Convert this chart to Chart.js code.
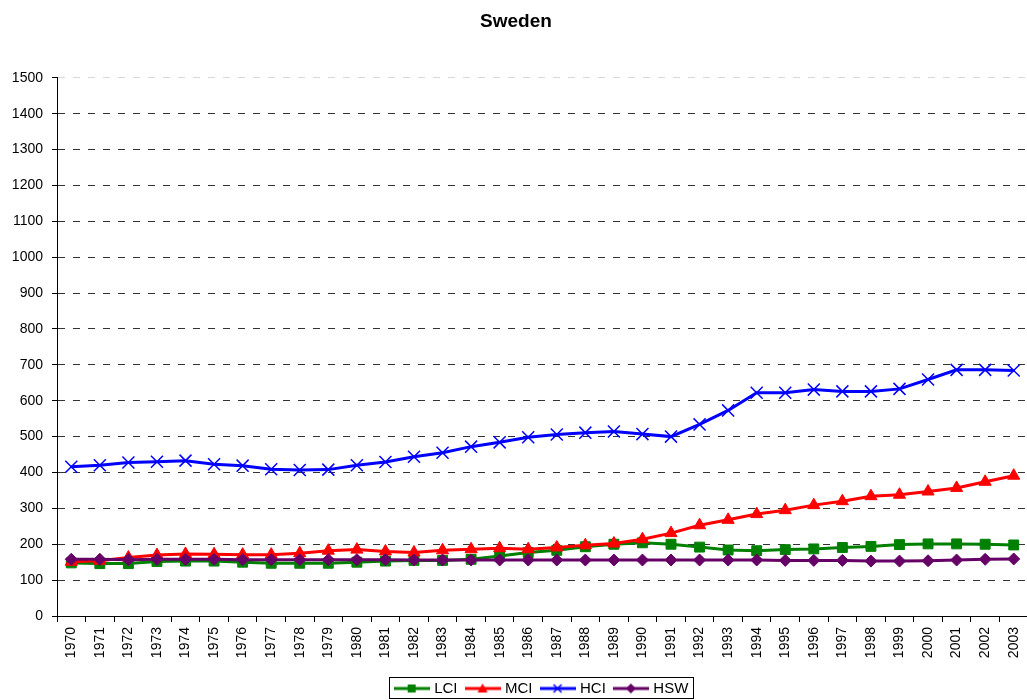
<!DOCTYPE html>
<html>
<head>
<meta charset="utf-8">
<title>Sweden</title>
<script src="https://cdn.jsdelivr.net/npm/chart.js@4.4.1/dist/chart.umd.min.js"></script>
<style>
  html, body { margin: 0; padding: 0; background: #fff; overflow: hidden; }
  #wrap { width: 1027px; height: 700px; overflow: hidden; position: relative; }
  #chart { position: absolute; left: 0; top: 0; }
</style>
</head>
<body>
<div id="wrap"><canvas id="chart" width="1038" height="706"></canvas></div>
<script>
// Values
const years = ["1970", "1971", "1972", "1973", "1974", "1975", "1976", "1977", "1978", "1979",
  "1980", "1981", "1982", "1983", "1984", "1985", "1986", "1987", "1988", "1989",
  "1990", "1991", "1992", "1993", "1994", "1995", "1996", "1997", "1998", "1999",
  "2000", "2001", "2002", "2003"];

const lci = [148, 146, 146, 152, 153, 153, 150, 147, 147, 147,
  150, 153, 155, 155, 158, 167, 177, 183, 193, 200,
  204, 200, 192, 184, 182, 185, 187, 191, 194, 199,
  201, 201, 200, 198];

const mci = [151, 154, 163, 170, 173, 172, 171, 171, 175, 182,
  185, 180, 177, 183, 186, 189, 186, 191, 197, 202,
  214, 231, 253, 268, 284, 295, 309, 320, 334, 338,
  347, 357, 374, 391];

const hci = [416, 420, 428, 430, 433, 423, 419, 409, 407, 408,
  420, 429, 444, 455, 472, 484, 498, 506, 511, 514,
  507, 500, 534, 573, 622, 622, 631, 626, 626, 633,
  659, 686, 686, 684];

const hsw = [158, 158, 157, 158, 158, 158, 157, 157, 157, 157,
  157, 157, 156, 156, 156, 156, 156, 156, 156, 156,
  156, 156, 156, 156, 156, 155, 155, 155, 153, 153,
  154, 156, 158, 159];

const yTicks = { min: 0, max: 1500, step: 100 };

Chart.defaults.font.family = "'Liberation Sans', Arial, sans-serif";
Chart.defaults.color = '#000';

// small line + marker picture used as the legend symbol
function legendIcon(color, shape) {
  const c = document.createElement('canvas');
  c.width = 36;
  c.height = 14;
  const g = c.getContext('2d');
  g.strokeStyle = color;
  g.fillStyle = color;
  g.lineWidth = 3;
  g.beginPath();
  g.moveTo(0, 7);
  g.lineTo(36, 7);
  g.stroke();
  g.lineWidth = 1.5;
  g.beginPath();
  if (shape === 'rect') {
    g.rect(14, 3, 8, 8);
    g.fill();
  } else if (shape === 'triangle') {
    g.moveTo(18, 2);
    g.lineTo(23, 11);
    g.lineTo(13, 11);
    g.closePath();
    g.fill();
  } else if (shape === 'cross') {
    g.moveTo(14, 3); g.lineTo(22, 11);
    g.moveTo(22, 3); g.lineTo(14, 11);
    g.stroke();
  } else {
    g.moveTo(18, 2);
    g.lineTo(23, 7);
    g.lineTo(18, 12);
    g.lineTo(13, 7);
    g.closePath();
    g.fill();
  }
  return c;
}

// thin black frame round the legend entries
const legendFrame = {
  id: 'legendFrame',
  afterDraw(chart) {
    const boxes = chart.legend && chart.legend.legendHitBoxes;
    if (!boxes || !boxes.length) return;
    const first = boxes[0];
    const last = boxes[boxes.length - 1];
    const x1 = Math.round(first.left - 8) + 0.5;
    const x2 = Math.round(last.left + last.width + 5) + 0.5;
    const y1 = Math.round(first.top - 4) + 0.5;
    const y2 = Math.round(first.top + first.height + 2) + 0.5;
    const ctx = chart.ctx;
    ctx.save();
    ctx.strokeStyle = '#000';
    ctx.lineWidth = 1;
    ctx.strokeRect(x1, y1, x2 - x1, y2 - y1);
    ctx.restore();
  }
};

function series(label, data, color, shape, extra) {
  return Object.assign({
    label: label,
    data: data,
    borderColor: color,
    backgroundColor: color,
    borderWidth: 3,
    tension: 0,
    pointStyle: shape,
    pointBackgroundColor: color,
    pointBorderColor: color,
    pointBorderWidth: 1,
    legendIcon: legendIcon(color, shape === 'crossRot' ? 'cross' : shape)
  }, extra);
}

const datasets = [
  series('LCI', lci, '#008000', 'rect', { pointRadius: 7, pointHoverRadius: 7, order: 3 }),
  series('MCI', mci, '#ff0000', 'triangle', { pointRadius: 7, pointHoverRadius: 7, order: 2 }),
  series('HCI', hci, '#0000ff', 'crossRot', { pointRadius: 8.5, pointHoverRadius: 8.5, pointBorderWidth: 1.5, order: 1 }),
  series('HSW', hsw, '#660066', 'rectRot', { pointRadius: 6, pointHoverRadius: 6, order: 0 })
];

new Chart(document.getElementById('chart').getContext('2d'), {
  type: 'line',
  data: { labels: years, datasets: datasets },
  plugins: [legendFrame],
  options: {
    responsive: false,
    animation: false,
    events: [],
    layout: { padding: { left: 0, right: 6, top: 0, bottom: 0 } },
    plugins: {
      title: {
        display: true,
        text: 'Sweden',
        color: '#000',
        font: { size: 19, weight: 'bold' },
        padding: { top: 10, bottom: 45 }
      },
      legend: {
        position: 'bottom',
        fullSize: false,
        labels: {
          usePointStyle: true,
          pointStyleWidth: 30,
          padding: 10,
          color: '#000',
          font: { size: 15 },
          sort: (a, b) => a.datasetIndex - b.datasetIndex,
          generateLabels: (chart) => chart.data.datasets.map((ds, i) => ({
            text: ds.label,
            datasetIndex: i,
            pointStyle: ds.legendIcon,
            fillStyle: ds.borderColor,
            strokeStyle: ds.borderColor,
            lineWidth: 0,
            hidden: false,
            fontColor: '#000'
          }))
        }
      },
      tooltip: { enabled: false }
    },
    scales: {
      x: {
        type: 'category',
        offset: true,
        afterFit: (scale) => { scale.height = 55; },
        grid: {
          offset: true,
          drawOnChartArea: false,
          drawTicks: true,
          tickLength: 6,
          color: '#000',
          tickColor: '#000'
        },
        border: { display: true, color: '#000', width: 1 },
        ticks: {
          autoSkip: false,
          minRotation: 90,
          maxRotation: 90,
          padding: 5,
          color: '#000',
          font: { size: 14 }
        }
      },
      y: {
        min: yTicks.min,
        max: yTicks.max,
        afterFit: (scale) => { scale.width = 57; },
        grid: {
          drawTicks: true,
          tickLength: 5,
          tickColor: '#000',
          tickBorderDash: [],
          color: (c) => (c.tick && c.tick.value === yTicks.max) ? '#d8d8d8' : '#333',
          borderDash: [7, 8]
        },
        border: { display: true, color: '#000', width: 1, dash: [7, 8] },
        ticks: {
          stepSize: yTicks.step,
          padding: 9,
          color: '#000',
          font: { size: 14 },
          callback: (value) => String(value)
        }
      }
    }
  }
});
</script>
</body>
</html>
